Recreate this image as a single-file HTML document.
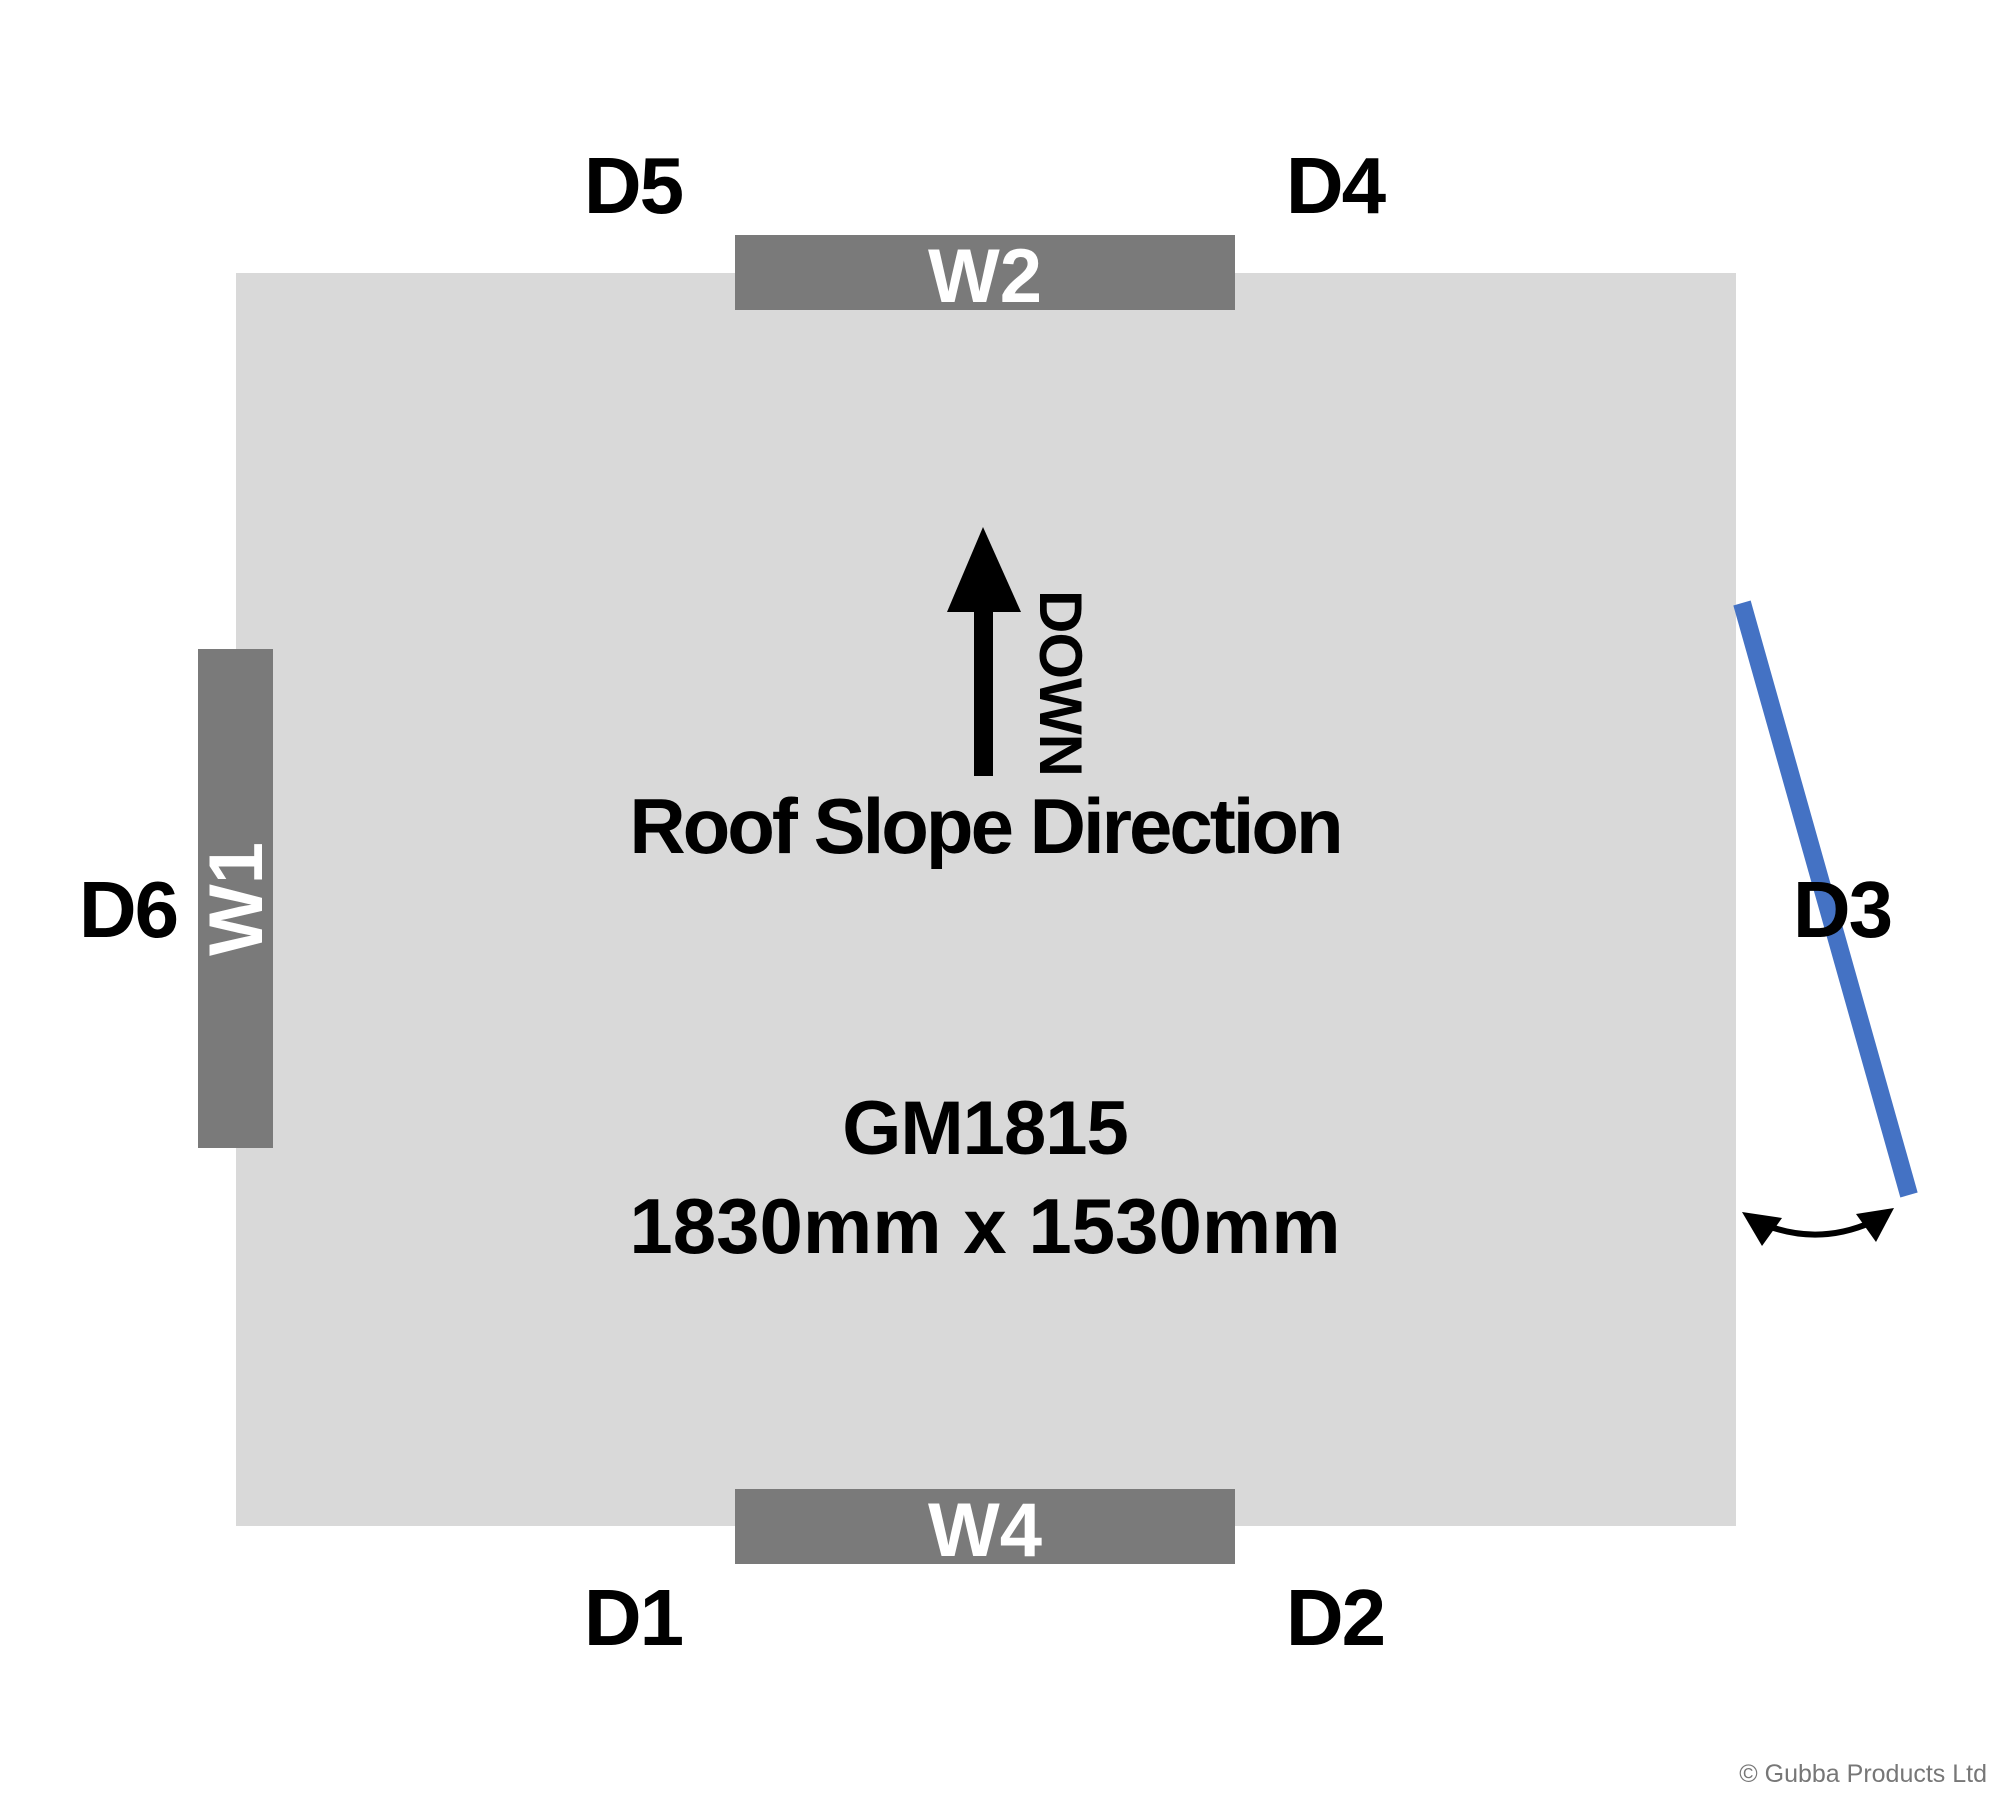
<!DOCTYPE html>
<html><head><meta charset="utf-8"><style>html,body{margin:0;padding:0;background:#fff}svg{display:block}text{font-family:"Liberation Sans",sans-serif;font-weight:bold}</style></head>
<body>
<svg width="2000" height="1800" viewBox="0 0 2000 1800" xmlns="http://www.w3.org/2000/svg">
<rect x="236" y="273" width="1500" height="1253" fill="#d9d9d9"/>
<rect x="735" y="235" width="500" height="75" fill="#7a7a7a"/>
<rect x="735" y="1489" width="500" height="75" fill="#7a7a7a"/>
<rect x="198" y="649" width="75" height="499" fill="#7a7a7a"/>
<line x1="1742" y1="603" x2="1909" y2="1195" stroke="#4472c4" stroke-width="18"/>
<rect x="974" y="600" width="19" height="176" fill="#000"/>
<polygon points="983,527 1021,612 947,612" fill="#000"/>
<text transform="translate(1040,683) rotate(90)" text-anchor="middle" font-size="60" letter-spacing="-1">DOWN</text>
<text x="985" y="853" text-anchor="middle" font-size="78" letter-spacing="-3">Roof Slope Direction</text>
<text x="985" y="1154" text-anchor="middle" font-size="76" letter-spacing="-1">GM1815</text>
<text x="985" y="1253" text-anchor="middle" font-size="78" letter-spacing="0">1830mm x 1530mm</text>
<g font-size="80" text-anchor="middle" letter-spacing="-2">
<text x="633" y="213">D5</text><text x="1335" y="213">D4</text>
<text x="633" y="1645">D1</text><text x="1335" y="1645">D2</text>
<text x="128" y="937">D6</text><text x="1842" y="937">D3</text>
</g>
<g font-size="76" fill="#fff" text-anchor="middle">
<text x="985" y="302">W2</text><text x="985" y="1556">W4</text>
<text transform="translate(262,899) rotate(-90)">W1</text>
</g>
<path d="M1768,1226 Q1820,1245 1872,1222" fill="none" stroke="#000" stroke-width="6"/>
<polygon points="1742,1212 1782,1218 1762,1246" fill="#000"/>
<polygon points="1894,1208 1876,1242 1856,1214" fill="#000"/>
<text x="1987" y="1782" text-anchor="end" font-size="25" style="font-weight:normal" fill="#777">© Gubba Products Ltd</text>
</svg>
</body></html>
